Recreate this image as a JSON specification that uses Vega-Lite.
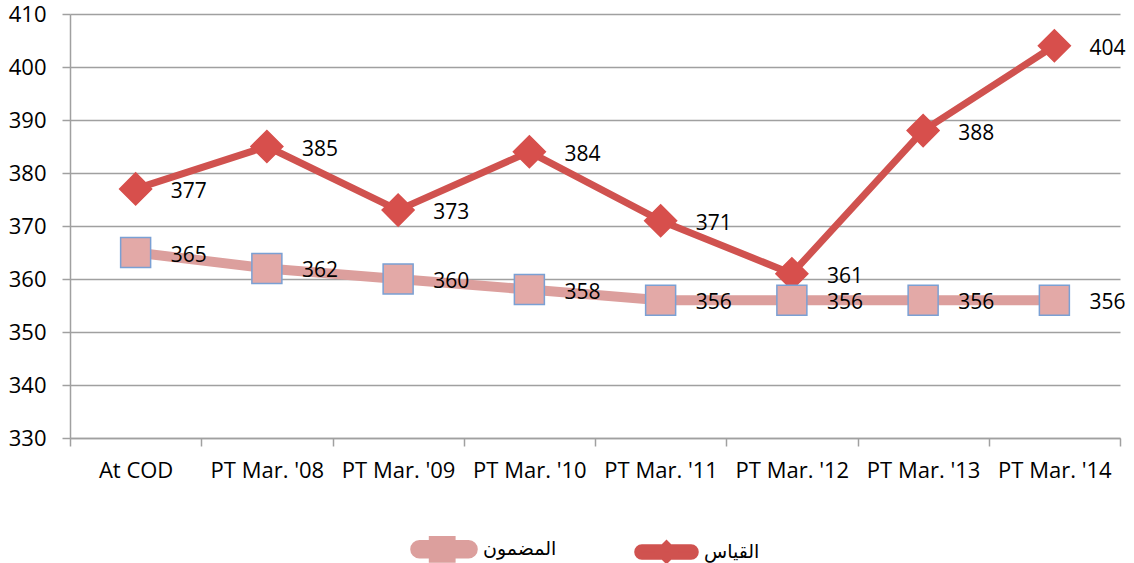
{
  "$schema": "https://vega.github.io/schema/vega-lite/v6.json",
  "width": 1050,
  "height": 424,
  "autosize": {"type": "none"},
  "padding": {"left": 70, "top": 14, "right": 14, "bottom": 125},
  "background": "white",
  "config": {"view": {"stroke": null}, "font": "Open Sans"},
  "data": {
    "values": [
      {"cat": "At COD", "series": "القياس", "marker": "القياس ", "value": 377},
      {"cat": "PT Mar. '08", "series": "القياس", "marker": "القياس ", "value": 385},
      {"cat": "PT Mar. '09", "series": "القياس", "marker": "القياس ", "value": 373},
      {"cat": "PT Mar. '10", "series": "القياس", "marker": "القياس ", "value": 384},
      {"cat": "PT Mar. '11", "series": "القياس", "marker": "القياس ", "value": 371},
      {"cat": "PT Mar. '12", "series": "القياس", "marker": "القياس ", "value": 361},
      {"cat": "PT Mar. '13", "series": "القياس", "marker": "القياس ", "value": 388},
      {"cat": "PT Mar. '14", "series": "القياس", "marker": "القياس ", "value": 404},
      {"cat": "At COD", "series": "المضمون", "marker": "المضمون ", "value": 365},
      {"cat": "PT Mar. '08", "series": "المضمون", "marker": "المضمون ", "value": 362},
      {"cat": "PT Mar. '09", "series": "المضمون", "marker": "المضمون ", "value": 360},
      {"cat": "PT Mar. '10", "series": "المضمون", "marker": "المضمون ", "value": 358},
      {"cat": "PT Mar. '11", "series": "المضمون", "marker": "المضمون ", "value": 356},
      {"cat": "PT Mar. '12", "series": "المضمون", "marker": "المضمون ", "value": 356},
      {"cat": "PT Mar. '13", "series": "المضمون", "marker": "المضمون ", "value": 356},
      {"cat": "PT Mar. '14", "series": "المضمون", "marker": "المضمون ", "value": 356}
    ]
  },
  "encoding": {
    "x": {
      "field": "cat",
      "type": "nominal",
      "sort": null,
      "title": null,
      "scale": {"type": "band", "paddingInner": 0, "paddingOuter": 0},
      "axis": {
        "tickBand": "extent",
        "labelAngle": 0,
        "labelFontSize": 22,
        "labelColor": "#000000",
        "labelPadding": 14,
        "tickSize": 8,
        "tickColor": "#a0a0a0",
        "tickWidth": 1.5,
        "domainColor": "#a0a0a0",
        "domainWidth": 1.5,
        "grid": false
      }
    },
    "y": {
      "field": "value",
      "type": "quantitative",
      "title": null,
      "scale": {"domain": [330, 410], "nice": false, "zero": false},
      "axis": {
        "values": [330, 340, 350, 360, 370, 380, 390, 400, 410],
        "labelFontSize": 22,
        "labelColor": "#000000",
        "labelPadding": 16,
        "tickSize": 8,
        "tickColor": "#a0a0a0",
        "tickWidth": 1.5,
        "domainColor": "#a0a0a0",
        "domainWidth": 1.5,
        "grid": true,
        "gridColor": "#a0a0a0",
        "gridWidth": 1.5
      }
    }
  },
  "layer": [
    {
      "mark": {"type": "line", "strokeCap": "round", "strokeJoin": "round"},
      "encoding": {
        "color": {
          "field": "series",
          "type": "nominal",
          "sort": ["المضمون", "القياس"],
          "scale": {"domain": ["المضمون", "القياس"], "range": ["#dc9f9d", "#d0524f"]},
          "legend": {
            "orient": "none",
            "legendX": 339,
            "legendY": 500,
            "direction": "horizontal",
            "title": null,
            "padding": 0,
            "symbolType": "M-0.82,-0.14H0.82A0.14,0.14 0 0 1 0.82,0.14H-0.82A0.14,0.14 0 0 1 -0.82,-0.14Z",
            "symbolSize": 3600,
            "labelFontSize": 19,
            "labelFont": "DejaVu Sans",
            "labelColor": "#000000",
            "labelOffset": 4,
            "columnPadding": 66,
            "encode": {
              "symbols": {
                "update": {
                  "shape": {"signal": "datum.value === 'المضمون' ? 'M-0.82,-0.14H0.82A0.14,0.14 0 0 1 0.82,0.14H-0.82A0.14,0.14 0 0 1 -0.82,-0.14Z M-0.34,-0.28H0.22V0.28H-0.34Z' : 'M-0.82,-0.14H0.82A0.14,0.14 0 0 1 0.82,0.14H-0.82A0.14,0.14 0 0 1 -0.82,-0.14Z M0,-0.25L0.25,0L0,0.25L-0.25,0Z'"},
                  "fill": {"signal": "datum.value === 'المضمون' ? '#dc9f9d' : '#d0524f'"},
                  "stroke": {"value": "transparent"},
                  "strokeWidth": {"value": 0},
                  "opacity": {"value": 1}
                }
              }
            }
          }
        },
        "strokeWidth": {
          "field": "series",
          "type": "nominal",
          "scale": {"domain": ["المضمون", "القياس"], "range": [10, 7]},
          "legend": null
        }
      }
    },
    {
      "mark": {"type": "point", "filled": true, "opacity": 1, "strokeWidth": 1.5},
      "encoding": {
        "shape": {
          "field": "marker",
          "type": "nominal",
          "scale": {"domain": ["المضمون ", "القياس "], "range": ["M-0.28,-0.28H0.28V0.28H-0.28Z", "M0,-0.27L0.27,0L0,0.27L-0.27,0Z"]},
          "legend": null
        },
        "fill": {
          "field": "marker",
          "type": "nominal",
          "scale": {"domain": ["المضمون ", "القياس "], "range": ["#e3a9a7", "#d74f4c"]},
          "legend": null
        },
        "stroke": {
          "field": "marker",
          "type": "nominal",
          "scale": {"domain": ["المضمون ", "القياس "], "range": ["#7aa0d4", "#d74f4c"]},
          "legend": null
        },
        "size": {
          "field": "marker",
          "type": "nominal",
          "scale": {"domain": ["المضمون ", "القياس "], "range": [11480, 14045]},
          "legend": null
        }
      }
    },
    {
      "mark": {"type": "text", "align": "left", "baseline": "middle", "dx": 35, "dy": 3, "fontSize": 21, "color": "#000000"},
      "encoding": {
        "text": {"field": "value", "type": "quantitative"}
      }
    }
  ]
}
